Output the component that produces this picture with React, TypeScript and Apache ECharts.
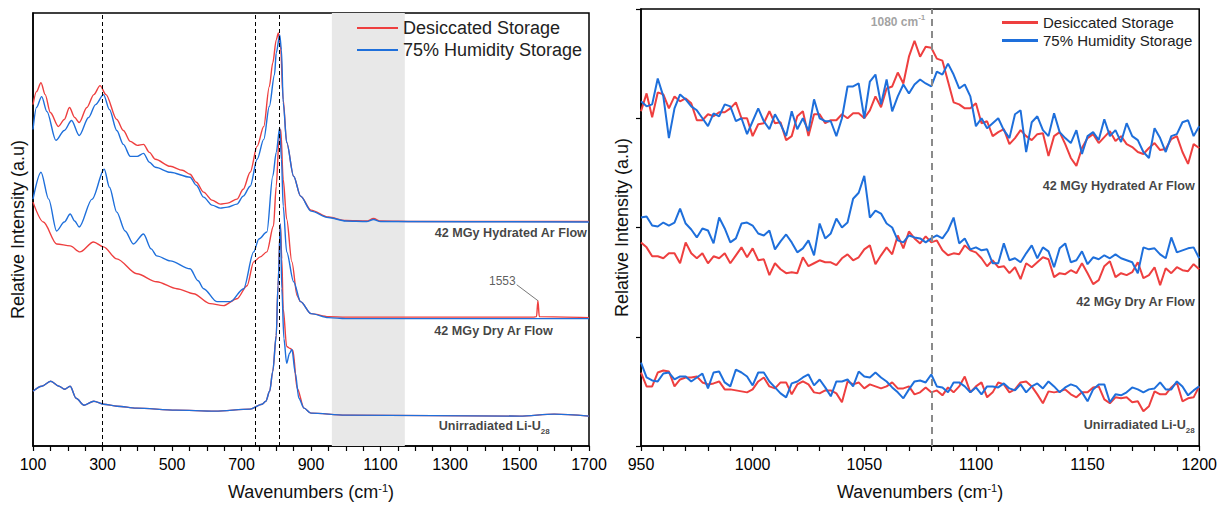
import React, { useEffect, useRef } from 'react';
import * as echarts from 'echarts';

const RED = '#EE3F3F';
const BLUE = '#1E6FDB';
const FONT = 'Liberation Sans, Arial, sans-serif';

const SERIES_NAMES = ['Desiccated Storage', '75% Humidity Storage'];

// ---------- Left panel (100-1700 cm-1), stacked intensities (a.u.) ----------
const hydratedDesiccated: [number, number][] = [
  [100, 343], [110, 356], [123, 365], [135, 353], [150, 335], [173, 321], [190, 328], [205, 340],
  [220, 330], [233, 325], [255, 340], [275, 353], [293, 362], [310, 353], [341, 328], [360, 317],
  [380, 306], [400, 302], [418, 303], [435, 295], [452, 288], [495, 281], [530, 277], [552, 273],
  [570, 265], [591, 255], [615, 247], [639, 243], [660, 244], [687, 248], [705, 258], [725, 275],
  [745, 301], [764, 321], [780, 361], [790, 385], [800, 408], [806, 415], [812, 403], [820, 348],
  [830, 305], [850, 271], [870, 251], [900, 237], [950, 230], [1000, 226.5], [1060, 226],
  [1080, 228.5], [1100, 226], [1200, 225.5], [1400, 225.5], [1700, 225.5],
];
const hydratedHumid: [number, number][] = [
  [100, 318], [110, 340], [125, 351], [140, 336], [166, 307], [190, 317], [211, 327], [233, 312],
  [260, 330], [280, 343], [303, 353], [320, 338], [341, 317], [360, 303], [380, 291], [400, 291],
  [418, 294], [435, 285], [452, 280], [495, 275], [552, 270], [570, 262], [591, 250], [615, 242],
  [639, 239], [660, 240], [687, 243], [705, 251], [725, 261], [745, 288], [764, 308], [780, 341],
  [795, 373], [800, 395], [810, 413], [815, 398], [820, 345], [830, 305], [850, 271], [870, 251],
  [900, 236], [950, 229.5], [1000, 226], [1060, 225.5], [1080, 227.5], [1100, 225.5], [1700, 225],
];
const dryDesiccated: [number, number][] = [
  [100, 245], [130, 225], [168, 203], [207, 201], [235, 195], [274, 205], [303, 200], [341, 188],
  [399, 173], [456, 165], [514, 158], [562, 153], [610, 143], [648, 141], [687, 148], [716, 161],
  [735, 185], [754, 190], [773, 195], [792, 221], [800, 261], [808, 308], [813, 318], [820, 268],
  [830, 228], [845, 185], [860, 151], [870, 145], [900, 133], [950, 130], [1000, 129.5],
  [1540, 129.5], [1549, 130], [1553, 146], [1557, 130], [1700, 129],
];
const dryHumid: [number, number][] = [
  [100, 248], [123, 275], [145, 248], [168, 216], [190, 225], [207, 233], [220, 226], [233, 220],
  [270, 248], [305, 278], [320, 260], [341, 235], [365, 216], [389, 203], [418, 213], [440, 198],
  [456, 191], [495, 186], [552, 178], [575, 166], [591, 158], [629, 145], [668, 145], [706, 158],
  [735, 195], [750, 208], [773, 215], [790, 271], [800, 295], [810, 320], [815, 288], [820, 241],
  [830, 195], [850, 165], [870, 145], [900, 133], [950, 129], [1000, 128], [1700, 128],
];
const unirrDesiccated: [number, number][] = [
  [100, 55], [125, 60], [151, 65], [175, 60], [191, 57], [207, 60], [224, 48], [247, 41],
  [275, 45], [303, 42], [342, 40], [398, 38], [511, 36], [624, 35], [725, 37], [759, 42],
  [770, 45], [781, 55], [790, 75], [800, 111], [805, 161], [812, 223], [816, 188], [820, 138],
  [830, 100], [840, 98], [848, 96], [860, 58], [880, 38], [900, 33], [1000, 31], [1500, 30],
  [1600, 32], [1700, 30],
];
const unirrHumid: [number, number][] = [
  [100, 55], [125, 60], [151, 65], [175, 60], [191, 57], [207, 60], [224, 48], [247, 41],
  [275, 45], [303, 42], [342, 40], [398, 38], [511, 36], [624, 35], [725, 37], [759, 42],
  [770, 45], [781, 55], [790, 75], [800, 111], [805, 161], [812, 223], [816, 158], [822, 108],
  [830, 83], [838, 93], [845, 97], [855, 73], [865, 48], [880, 38], [900, 33], [1000, 31],
  [1500, 30], [1600, 32], [1700, 30],
];

const LEFT_GUIDES = [300, 740, 810];
const LEFT_BAND = [960, 1170];
const LEFT_SPIKE = 1553;

// ---------- Right panel (950-1200 cm-1), sampled every 2.5 cm-1 ----------
const RIGHT_START = 950;
const RIGHT_STEP = 2.5;

const rHydDesiccated = [
  337, 355, 331, 356, 354, 340, 352, 347, 350, 345,
  328, 328, 334, 332, 336, 336, 340, 346, 330, 330,
  312, 324, 325, 337, 325, 326, 308, 312, 332, 337,
  312, 334, 334, 325, 328, 328, 334, 330, 335, 335,
  330, 338, 352, 341, 360, 362, 376, 365, 392, 408,
  392, 402, 401, 390, 388, 367, 346, 344, 340, 340,
  345, 325, 327, 312, 316, 319, 304, 310, 318, 312,
  308, 314, 315, 292, 312, 316, 304, 290, 282, 300,
  310, 314, 305, 311, 317, 307, 312, 304, 301, 296,
  294, 300, 305, 298, 299, 309, 312, 296, 284, 304,
  300,
];
const rHydHumid = [
  347, 342, 344, 370, 352, 310, 340, 354, 349, 342,
  338, 330, 322, 335, 332, 344, 342, 327, 330, 314,
  327, 340, 327, 319, 334, 324, 312, 337, 319, 330,
  317, 349, 330, 327, 327, 312, 330, 362, 362, 365,
  330, 367, 374, 344, 369, 337, 352, 364, 355, 364,
  369, 365, 362, 377, 374, 385, 374, 360, 364, 352,
  322, 330, 320, 325, 330, 318, 310, 334, 338, 296,
  326, 332, 318, 312, 335, 316, 310, 305, 318, 294,
  312, 316, 308, 329, 312, 318, 306, 325, 312, 308,
  296, 290, 320, 310, 296, 312, 314, 326, 328, 312,
  322,
];
const rDryDesiccated = [
  205, 200, 191, 191, 189, 194, 194, 184, 205, 194,
  189, 194, 184, 191, 189, 194, 184, 192, 200, 190,
  199, 187, 188, 172, 184, 178, 174, 175, 174, 190,
  181, 184, 187, 185, 185, 182, 189, 193, 187, 190,
  198, 202, 183, 192, 200, 193, 212, 199, 216, 209,
  204, 211, 205, 207, 197, 192, 194, 193, 202, 197,
  195, 189, 181, 187, 180, 181, 174, 180, 168, 184,
  180, 185, 190, 188, 170, 174, 173, 177, 174, 184,
  174, 163, 167, 181, 186, 170, 174, 172, 175, 185,
  169, 172, 180, 162, 179, 174, 180, 177, 176, 183,
  178,
];
const rDryHumid = [
  230, 231, 222, 221, 225, 222, 225, 239, 224, 218,
  210, 219, 217, 204, 230, 219, 205, 209, 224, 225,
  222, 214, 212, 217, 198, 206, 213, 205, 195, 199,
  207, 192, 224, 209, 214, 229, 220, 225, 249, 255,
  272, 230, 237, 234, 224, 220, 207, 205, 212, 210,
  209, 205, 209, 212, 209, 217, 230, 204, 209, 198,
  200, 197, 198, 184, 184, 204, 187, 189, 185, 194,
  202, 189, 200, 196, 180, 199, 204, 185, 187, 196,
  183, 190, 188, 192, 189, 193, 189, 187, 185, 174,
  200, 198, 199, 193, 189, 210, 195, 197, 199, 200,
  189,
];
const rUnirrDesiccated = [
  74, 60, 60, 74, 76, 75, 60, 67, 69, 69,
  70, 64, 62, 63, 65, 57, 57, 56, 55, 54,
  57, 65, 69, 60, 58, 64, 64, 52, 62, 65,
  62, 54, 53, 56, 56, 53, 44, 65, 62, 64,
  58, 62, 60, 58, 60, 64, 58, 58, 60, 52,
  54, 59, 54, 56, 51, 59, 54, 60, 70, 54,
  60, 64, 49, 54, 64, 62, 54, 57, 64, 65,
  60, 52, 43, 55, 54, 55, 57, 52, 49, 54,
  54, 59, 60, 47, 43, 49, 48, 49, 44, 45,
  35, 40, 55, 52, 52, 59, 64, 45, 48, 49,
  60,
];
const rUnirrHumid = [
  84, 69, 66, 65, 73, 74, 67, 70, 70, 65,
  69, 73, 58, 74, 75, 64, 60, 77, 74, 70,
  61, 74, 74, 65, 59, 53, 49, 63, 65, 69,
  72, 61, 67, 59, 50, 65, 65, 67, 60, 75,
  70, 69, 74, 69, 65, 59, 54, 48, 57, 65,
  66, 64, 72, 60, 59, 54, 64, 64, 60, 54,
  59, 52, 60, 60, 59, 63, 58, 56, 62, 54,
  60, 63, 58, 65, 60, 54, 59, 62, 60, 54,
  45, 57, 62, 62, 44, 52, 51, 54, 59, 57,
  54, 57, 58, 64, 57, 57, 65, 60, 51, 56,
  60,
];
const RIGHT_GUIDE = 1080;

const pairRight = (vals: number[]) =>
  vals.map((v, i) => [RIGHT_START + i * RIGHT_STEP, v]);

const axisText = { fontFamily: FONT, color: '#000' };

function buildOption() {
  const nameRich = {
    a: { fontSize: 18, fontFamily: FONT, color: '#111' },
    s: { fontSize: 11, fontFamily: FONT, color: '#111', verticalAlign: 'top', lineHeight: 20 },
  };
  const bold = { fontSize: 12.6, fontWeight: 'bold', fontFamily: FONT, color: '#111' };
  const subRich = {
    b: bold,
    s: { fontSize: 8, fontWeight: 'bold', fontFamily: FONT, color: '#111', verticalAlign: 'bottom', lineHeight: 18 },
  };

  const lineSeries = (name: string, color: string, data: any, xi: number, width: number, smooth: number) => ({
    type: 'line',
    name,
    xAxisIndex: xi,
    yAxisIndex: xi,
    data,
    showSymbol: false,
    symbol: 'none',
    smooth,
    smoothMonotone: 'x',
    lineStyle: { color, width },
    itemStyle: { color },
    z: 3,
  });

  const textLabel = (xi: number, x: number, y: number, formatter: string, rich: any, extra: any = {}) => ({
    type: 'scatter',
    xAxisIndex: xi,
    yAxisIndex: xi,
    symbolSize: 0,
    silent: true,
    z: 5,
    data: [[x, y]],
    label: {
      show: true,
      position: 'left',
      distance: 0,
      formatter,
      rich,
      ...extra,
    },
  });

  return {
    animation: false,
    textStyle: { fontFamily: FONT },
    legend: [
      {
        data: SERIES_NAMES,
        left: 352,
        top: 14,
        orient: 'vertical',
        icon: 'rect',
        itemWidth: 41,
        itemHeight: 2,
        itemGap: 4,
        selectedMode: false,
        textStyle: { fontSize: 18, color: '#222', fontFamily: FONT, lineHeight: 18 },
      },
      {
        data: SERIES_NAMES,
        left: 997,
        top: 10,
        orient: 'vertical',
        icon: 'rect',
        itemWidth: 36,
        itemHeight: 3,
        itemGap: 3,
        selectedMode: false,
        textStyle: { fontSize: 15, color: '#222', fontFamily: FONT, lineHeight: 15 },
      },
    ],
    grid: [
      { left: 33, top: 13, width: 556, height: 435, show: true, borderColor: '#000', borderWidth: 1.5, backgroundColor: 'transparent' },
      { left: 641, top: 9, width: 559, height: 438, show: true, borderColor: '#000', borderWidth: 1.5, backgroundColor: 'transparent' },
    ],
    xAxis: [
      {
        type: 'value',
        gridIndex: 0,
        min: 100,
        max: 1700,
        interval: 50,
        axisLine: { show: true, lineStyle: { color: '#000', width: 1.5 } },
        axisTick: { show: true, inside: false, length: 5, lineStyle: { color: '#000', width: 1.2 } },
        axisLabel: {
          ...axisText,
          fontSize: 16,
          margin: 10,
          interval: 0,
          formatter: (v: number) => ((v - 100) % 200 === 0 ? String(v) : ''),
        },
        splitLine: { show: false },
        name: '{a|Wavenumbers (cm}{s|-1}{a|)}',
        nameLocation: 'middle',
        nameGap: 36,
        nameTextStyle: { rich: nameRich },
      },
      {
        type: 'value',
        gridIndex: 1,
        min: 950,
        max: 1200,
        interval: 10,
        axisLine: { show: true, lineStyle: { color: '#000', width: 1.5 } },
        axisTick: { show: true, inside: false, length: 5, lineStyle: { color: '#000', width: 1.2 } },
        axisLabel: {
          ...axisText,
          fontSize: 16,
          margin: 10,
          interval: 0,
          formatter: (v: number) => (v % 50 === 0 ? String(v) : ''),
        },
        splitLine: { show: false },
        name: '{a|Wavenumbers (cm}{s|-1}{a|)}',
        nameLocation: 'middle',
        nameGap: 36,
        nameTextStyle: { rich: nameRich },
      },
    ],
    yAxis: [
      {
        type: 'value',
        gridIndex: 0,
        min: 0,
        max: 435,
        axisLine: { show: true, lineStyle: { color: '#000', width: 1.5 } },
        axisTick: { show: false },
        axisLabel: { show: false },
        splitLine: { show: false },
        name: 'Relative Intensity (a.u)',
        nameLocation: 'middle',
        nameGap: 6,
        nameTextStyle: { fontSize: 18, fontFamily: FONT, color: '#111' },
      },
      {
        type: 'value',
        gridIndex: 1,
        min: 0,
        max: 440,
        interval: 110,
        axisLine: { show: true, lineStyle: { color: '#000', width: 1.5 } },
        axisTick: { show: true, inside: false, length: 5, lineStyle: { color: '#000', width: 1.2 } },
        axisLabel: { show: false },
        splitLine: { show: false },
        name: 'Relative Intensity (a.u)',
        nameLocation: 'middle',
        nameGap: 10,
        nameTextStyle: { fontSize: 18, fontFamily: FONT, color: '#111' },
      },
    ],
    series: [
      {
        type: 'line',
        xAxisIndex: 0,
        yAxisIndex: 0,
        data: [],
        z: 1,
        silent: true,
        markArea: {
          silent: true,
          itemStyle: { color: '#e8e8e8' },
          data: [[{ xAxis: LEFT_BAND[0] }, { xAxis: LEFT_BAND[1] }]],
        },
        markLine: {
          silent: true,
          symbol: ['none', 'none'],
          label: { show: false },
          lineStyle: { type: [4, 3], color: '#000', width: 1 },
          data: LEFT_GUIDES.map((x) => ({ xAxis: x })),
        },
      },
      lineSeries(SERIES_NAMES[0], RED, hydratedDesiccated, 0, 1.4, 0.3),
      lineSeries(SERIES_NAMES[1], BLUE, hydratedHumid, 0, 1.4, 0.3),
      lineSeries(SERIES_NAMES[0], RED, dryDesiccated, 0, 1.4, 0.3),
      lineSeries(SERIES_NAMES[1], BLUE, dryHumid, 0, 1.4, 0.3),
      lineSeries(SERIES_NAMES[0], RED, unirrDesiccated, 0, 1.4, 0.3),
      lineSeries(SERIES_NAMES[1], BLUE, unirrHumid, 0, 1.4, 0.3),
      {
        type: 'line',
        xAxisIndex: 1,
        yAxisIndex: 1,
        data: [],
        z: 1,
        silent: true,
        markLine: {
          silent: true,
          symbol: ['none', 'none'],
          label: { show: false },
          lineStyle: { type: [7, 5], color: '#8a8a8a', width: 2 },
          data: [{ xAxis: RIGHT_GUIDE }],
        },
      },
      lineSeries(SERIES_NAMES[0], RED, pairRight(rHydDesiccated), 1, 2, 0),
      lineSeries(SERIES_NAMES[1], BLUE, pairRight(rHydHumid), 1, 2, 0),
      lineSeries(SERIES_NAMES[0], RED, pairRight(rDryDesiccated), 1, 2, 0),
      lineSeries(SERIES_NAMES[1], BLUE, pairRight(rDryHumid), 1, 2, 0),
      lineSeries(SERIES_NAMES[0], RED, pairRight(rUnirrDesiccated), 1, 2, 0),
      lineSeries(SERIES_NAMES[1], BLUE, pairRight(rUnirrHumid), 1, 2, 0),
      textLabel(0, 1694, 214, '{b|42 MGy Hydrated Ar Flow}', { b: bold }),
      textLabel(0, 1596, 116, '{b|42 MGy Dry Ar Flow}', { b: bold }),
      textLabel(0, 1587, 20, '{b|Unirradiated Li-U}{s|28}', subRich),
      {
        type: 'scatter',
        xAxisIndex: 0,
        yAxisIndex: 0,
        symbolSize: 0,
        silent: true,
        z: 5,
        data: [[1489, 166]],
        label: {
          show: true,
          position: 'left',
          distance: 0,
          formatter: String(LEFT_SPIKE),
          fontSize: 12,
          fontFamily: FONT,
          color: '#333',
        },
        markLine: {
          silent: true,
          symbol: ['none', 'none'],
          label: { show: false },
          lineStyle: { type: 'solid', color: '#555', width: 0.8 },
          data: [[{ coord: [1492, 162] }, { coord: [LEFT_SPIKE, 146] }]],
        },
      },
      textLabel(1, 1198, 262, '{b|42 MGy Hydrated Ar Flow}', { b: bold }),
      textLabel(1, 1198, 145, '{b|42 MGy Dry Ar Flow}', { b: bold }),
      textLabel(1, 1198, 21, '{b|Unirradiated Li-U}{s|28}', subRich),
      textLabel(1, RIGHT_GUIDE, 427, '{a|1080 cm}{s|-1}', {
        a: { fontSize: 12, fontWeight: 'bold', fontFamily: FONT, color: '#8a8a8a' },
        s: { fontSize: 8, fontWeight: 'bold', fontFamily: FONT, color: '#8a8a8a', verticalAlign: 'top', lineHeight: 16 },
      }, { distance: 6 }),
    ],
  };
}

export default function App() {
  const ref = useRef<HTMLDivElement>(null);
  useEffect(() => {
    if (!ref.current) return;
    const chart = echarts.init(ref.current, null, { renderer: 'svg' });
    chart.setOption(buildOption() as any);
    return () => chart.dispose();
  }, []);
  return (
    <div
      ref={ref}
      style={{ position: 'absolute', left: 0, top: 0, width: 1220, height: 506, background: '#fff' }}
    />
  );
}
